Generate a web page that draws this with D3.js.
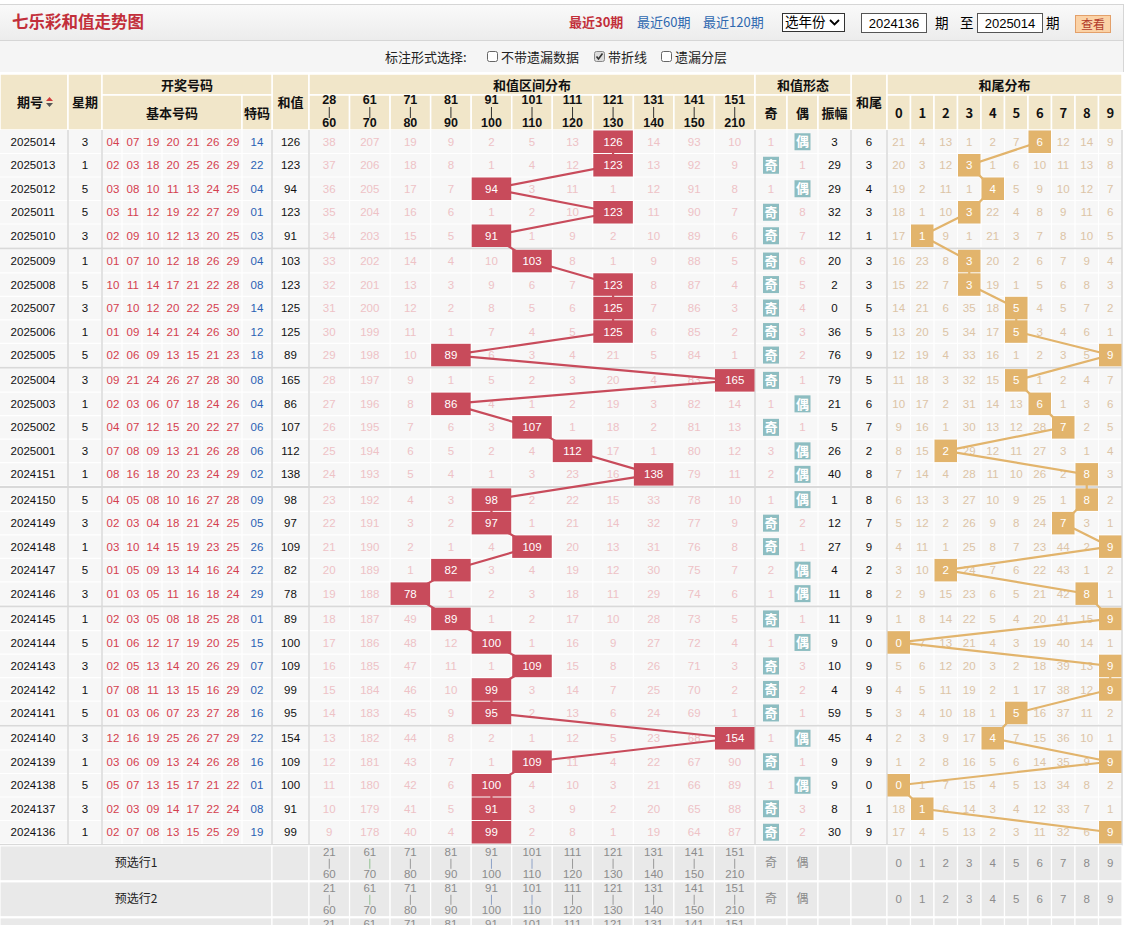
<!DOCTYPE html>
<html><head><meta charset="utf-8">
<script src="https://cdn.jsdelivr.net/npm/d3@7"></script>
<style>
body{margin:0;background:#fff;overflow:hidden;}
svg{display:block;}
text{font-family:"Liberation Sans","DejaVu Sans",sans-serif;}
.cjk{font-family:"Noto Sans CJK SC","Noto Sans",sans-serif;}
</style></head><body>
<svg id="c" width="1127" height="925"></svg>
<script>
// ---------------- DATA ----------------
const issues = ["2025014","2025013","2025012","2025011","2025010","2025009","2025008","2025007","2025006","2025005",
"2025004","2025003","2025002","2025001","2024151","2024150","2024149","2024148","2024147","2024146",
"2024145","2024144","2024143","2024142","2024141","2024140","2024139","2024138","2024137","2024136"];
const weekdays = [3,1,5,5,3,1,5,3,1,5,3,1,5,3,1,5,3,1,5,3,1,5,3,1,5,3,1,5,3,1];
const basicNumbers = [
["04","07","19","20","21","26","29"],["02","03","18","20","25","26","29"],["03","08","10","11","13","24","25"],
["03","11","12","19","22","27","29"],["02","09","10","12","13","20","25"],["01","07","10","12","18","26","29"],
["10","11","14","17","21","22","28"],["07","10","12","20","22","25","29"],["01","09","14","21","24","26","30"],
["02","06","09","13","15","21","23"],["09","21","24","26","27","28","30"],["02","03","06","07","18","24","26"],
["04","07","12","15","20","22","27"],["07","08","09","13","21","26","28"],["08","16","18","20","23","24","29"],
["04","05","08","10","16","27","28"],["02","03","04","18","21","24","25"],["03","10","14","15","19","23","25"],
["01","05","09","13","14","16","24"],["01","03","05","11","16","18","24"],["02","03","05","08","18","25","28"],
["01","06","12","17","19","20","25"],["02","05","13","14","20","26","29"],["07","08","11","13","15","16","29"],
["01","03","06","07","23","27","28"],["12","16","19","25","26","27","29"],["03","06","09","13","24","26","28"],
["05","07","13","15","17","21","22"],["02","03","09","14","17","22","24"],["02","07","08","13","15","25","29"]];
const specialNumbers = ["14","22","04","01","03","04","08","14","12","18","08","04","06","06","02",
"09","05","26","22","29","01","15","07","02","16","22","16","01","08","19"];
const sums = [126,123,94,123,91,103,123,125,125,89,165,86,107,112,138,98,97,109,82,78,89,100,109,99,95,154,109,100,91,99];
// sum-range tick labels (header) and preview labels
const binTop = ["28","61","71","81","91","101","111","121","131","141","151"];
const binBottom = ["60","70","80","90","100","110","120","130","140","150","210"];
const previewTop = ["21","61","71","81","91","101","111","121","131","141","151"];
const binThresholds = [61,71,81,91,101,111,121,131,141,151];
// omission values per sum range (null = hit cell)
const sumOmissions = [
[38,207,19,9,2,5,13,null,14,93,10],[37,206,18,8,1,4,12,null,13,92,9],[36,205,17,7,null,3,11,1,12,91,8],
[35,204,16,6,1,2,10,null,11,90,7],[34,203,15,5,null,1,9,2,10,89,6],[33,202,14,4,10,null,8,1,9,88,5],
[32,201,13,3,9,6,7,null,8,87,4],[31,200,12,2,8,5,6,null,7,86,3],[30,199,11,1,7,4,5,null,6,85,2],
[29,198,10,null,6,3,4,21,5,84,1],[28,197,9,1,5,2,3,20,4,83,null],[27,196,8,null,4,1,2,19,3,82,14],
[26,195,7,6,3,null,1,18,2,81,13],[25,194,6,5,2,4,null,17,1,80,12],[24,193,5,4,1,3,23,16,null,79,11],
[23,192,4,3,null,2,22,15,33,78,10],[22,191,3,2,null,1,21,14,32,77,9],[21,190,2,1,4,null,20,13,31,76,8],
[20,189,1,null,3,4,19,12,30,75,7],[19,188,null,1,2,3,18,11,29,74,6],[18,187,49,null,1,2,17,10,28,73,5],
[17,186,48,12,null,1,16,9,27,72,4],[16,185,47,11,1,null,15,8,26,71,3],[15,184,46,10,null,3,14,7,25,70,2],
[14,183,45,9,null,2,13,6,24,69,1],[13,182,44,8,2,1,12,5,23,68,null],[12,181,43,7,1,null,11,4,22,67,90],
[11,180,42,6,null,4,10,3,21,66,89],[10,179,41,5,null,3,9,2,20,65,88],[9,178,40,4,null,2,8,1,19,64,87]];
// odd / even omission (null = hit)
const oddOmission  = [1,null,1,null,null,null,null,null,null,null,null,1,null,3,2,1,null,null,2,1,null,1,null,null,null,1,null,1,null,null];
const evenOmission = [null,1,null,8,7,6,5,4,3,2,1,null,1,null,null,null,2,1,null,null,1,null,3,2,1,null,1,null,3,2];
const amplitudes = [3,29,29,32,12,20,2,0,36,76,79,21,5,26,40,1,12,27,4,11,11,9,10,4,59,45,9,9,8,30];
const tails = [6,3,4,3,1,3,3,5,5,9,5,6,7,2,8,8,7,9,2,8,9,0,9,9,5,4,9,0,1,9];
const tailDigits = ["0","1","2","3","4","5","6","7","8","9"];
const tailOmissions = [
[21,4,13,1,2,7,null,12,14,9],[20,3,12,null,1,6,10,11,13,8],[19,2,11,1,null,5,9,10,12,7],
[18,1,10,null,22,4,8,9,11,6],[17,null,9,1,21,3,7,8,10,5],[16,23,8,null,20,2,6,7,9,4],
[15,22,7,null,19,1,5,6,8,3],[14,21,6,35,18,null,4,5,7,2],[13,20,5,34,17,null,3,4,6,1],
[12,19,4,33,16,1,2,3,5,null],[11,18,3,32,15,null,1,2,4,7],[10,17,2,31,14,13,null,1,3,6],
[9,16,1,30,13,12,28,null,2,5],[8,15,null,29,12,11,27,3,1,4],[7,14,4,28,11,10,26,2,null,3],
[6,13,3,27,10,9,25,1,null,2],[5,12,2,26,9,8,24,null,3,1],[4,11,1,25,8,7,23,44,2,null],
[3,10,null,24,7,6,22,43,1,2],[2,9,15,23,6,5,21,42,null,1],[1,8,14,22,5,4,20,41,15,null],
[null,7,13,21,4,3,19,40,14,1],[5,6,12,20,3,2,18,39,13,null],[4,5,11,19,2,1,17,38,12,null],
[3,4,10,18,1,null,16,37,11,2],[2,3,9,17,null,7,15,36,10,1],[1,2,8,16,5,6,14,35,9,null],
[null,1,7,15,4,5,13,34,8,2],[18,null,6,14,3,4,12,33,7,1],[17,4,5,13,2,3,11,32,6,null]];
const previewLabels = ["预选行1","预选行2","预选行3"];

// ---------------- LAYOUT ----------------
const svg = d3.select("#c");
const W = 1122;
const C = {
  box:"#c84b5b", orange:"#e2b46c", teal:"#8dbdc1", head:"#f1e6c9", cell:"#f7f7f7",
  miss:"#eec2c6", tailMiss:"#dcc4a6", red:"#d4404e", blue:"#2a62b4", grid:"#d9d9d9"
};
const top0 = 130, rowH = 23.5, groupSep = 1.8;
const yBand = d3.scaleBand().domain(d3.range(30)).range([0, 30*rowH]);
const rowTop = i => top0 + yBand(i) + Math.floor(i/5)*groupSep;
const rowMid = i => rowTop(i) + rowH/2;
const xBins = d3.scaleBand().domain(d3.range(11)).range([309, 755]);
const xTail = d3.scaleBand().domain(d3.range(10)).range([887, 1122]);
const xBasic = d3.scaleBand().domain(d3.range(7)).range([102, 242]);
const binOf = d3.scaleThreshold().domain(binThresholds).range(d3.range(11));
const cols = {issue:[0,68], week:[68,102], special:[242,272], sum:[272,309], odd:[755,787], even:[787,818], amp:[818,851], tail:[851,887]};
const mid = c => (c[0]+c[1])/2;

// ---------------- TOP BARS ----------------
const defs = svg.append("defs");
const g1 = defs.append("linearGradient").attr("id","bar").attr("x1",0).attr("y1",0).attr("x2",0).attr("y2",1);
g1.append("stop").attr("offset","0").attr("stop-color","#fafafa");
g1.append("stop").attr("offset","1").attr("stop-color","#ececec");
svg.append("rect").attr("x",0).attr("y",4).attr("width",1123).attr("height",36).attr("fill","url(#bar)");
svg.append("line").attr("x1",0).attr("x2",1123).attr("y1",4.5).attr("y2",4.5).attr("stroke","#d6d6d6");
svg.append("line").attr("x1",0).attr("x2",1123).attr("y1",40.5).attr("y2",40.5).attr("stroke","#d6d6d6");
svg.append("rect").attr("x",0).attr("y",41).attr("width",1123).attr("height",31).attr("fill","#f5f5f5");
svg.append("line").attr("x1",1123.5).attr("x2",1123.5).attr("y1",4).attr("y2",72).attr("stroke","#d6d6d6");

svg.append("text").attr("class","cjk").attr("x",12).attr("y",28).attr("font-size",16.5).attr("font-weight","bold")
  .attr("fill","#c22f3a").text("七乐彩和值走势图");
const nav = [["最近30期",569,"#c22f3a","bold"],["最近60期",637,"#2e68b0","normal"],["最近120期",703,"#2e68b0","normal"]];
svg.selectAll(".nav").data(nav).join("text").attr("class","cjk").attr("x",d=>d[1]).attr("y",27)
  .attr("font-size",13).attr("fill",d=>d[2]).attr("font-weight",d=>d[3]).text(d=>d[0]);
// select
svg.append("rect").attr("x",782.5).attr("y",13.5).attr("width",62).attr("height",18).attr("fill","#fff").attr("stroke","#333");
svg.append("text").attr("class","cjk").attr("x",785).attr("y",27).attr("font-size",13.5).attr("fill","#000").text("选年份");
svg.append("path").attr("d","M830 20 L834.5 24.5 L839 20").attr("fill","none").attr("stroke","#000").attr("stroke-width",1.8);
// inputs
[[861,"2024136"],[977,"2025014"]].forEach(([x,t])=>{
  svg.append("rect").attr("x",x+0.5).attr("y",13.5).attr("width",65).attr("height",19).attr("fill","#fff").attr("stroke","#555");
  svg.append("text").attr("x",x+33).attr("y",28).attr("text-anchor","middle").attr("font-size",13).attr("fill","#000").text(t);
});
[["期",935],["至",960],["期",1046]].forEach(([t,x])=>svg.append("text").attr("class","cjk").attr("x",x).attr("y",28).attr("font-size",13.5).attr("fill","#000").text(t));
svg.append("rect").attr("x",1075.5).attr("y",15.5).attr("width",35).attr("height",17).attr("fill","#fbd2a6").attr("stroke","#e3a06a");
svg.append("text").attr("class","cjk").attr("x",1093).attr("y",28.5).attr("text-anchor","middle").attr("font-size",12).attr("fill","#b23a2a").text("查看");

// second bar
svg.append("text").attr("class","cjk").attr("x",385).attr("y",62).attr("font-size",13).attr("fill","#222").text("标注形式选择:");
const checks = [[487,false,"不带遗漏数据"],[594,true,"带折线"],[661,false,"遗漏分层"]];
checks.forEach(([x,on,t])=>{
  svg.append("rect").attr("x",x+0.5).attr("y",51.5).attr("width",10).attr("height",10).attr("rx",2)
    .attr("fill",on?"#dcdcdc":"#fff").attr("stroke",on?"#888":"#666");
  if(on) svg.append("path").attr("d",`M${x+2.5} ${56.5} L${x+4.5} ${59} L${x+8.5} ${53.5}`).attr("fill","none").attr("stroke","#333").attr("stroke-width",1.6);
  svg.append("text").attr("class","cjk").attr("x",x+14).attr("y",62).attr("font-size",13).attr("fill","#222").text(t);
});

// ---------------- HEADER ----------------
const hTop = 74, hMid = 95, hBot = 130;
const hCells = [];
[["issue","期号"],["week","星期"],["sum","和值"],["tail","和尾"]].forEach(([k,t])=>hCells.push({x0:cols[k][0],x1:cols[k][1],y0:hTop,y1:hBot,t,ty:102}));
hCells.push({x0:102,x1:272,y0:hTop,y1:hMid,t:"开奖号码",ty:85});
hCells.push({x0:102,x1:242,y0:hMid,y1:hBot,t:"基本号码",ty:113});
hCells.push({x0:242,x1:272,y0:hMid,y1:hBot,t:"特码",ty:113});
hCells.push({x0:309,x1:755,y0:hTop,y1:hMid,t:"和值区间分布",ty:85});
xBins.domain().forEach(b=>hCells.push({x0:xBins(b),x1:xBins(b)+xBins.bandwidth(),y0:hMid,y1:hBot,t:"",ty:0}));
hCells.push({x0:755,x1:851,y0:hTop,y1:hMid,t:"和值形态",ty:85});
[["odd","奇"],["even","偶"],["amp","振幅"]].forEach(([k,t])=>hCells.push({x0:cols[k][0],x1:cols[k][1],y0:hMid,y1:hBot,t,ty:113}));
hCells.push({x0:887,x1:1122,y0:hTop,y1:hMid,t:"和尾分布",ty:85});
xTail.domain().forEach(d=>hCells.push({x0:xTail(d),x1:xTail(d)+xTail.bandwidth(),y0:hMid,y1:hBot,t:tailDigits[d],ty:113}));
svg.append("g").selectAll("rect").data(hCells).join("rect")
  .attr("x",d=>d.x0).attr("y",d=>d.y0).attr("width",d=>d.x1-d.x0).attr("height",d=>d.y1-d.y0)
  .attr("fill",C.head).attr("stroke","#fff").attr("stroke-width",1.5);
svg.append("g").selectAll("text").data(hCells.filter(d=>d.t)).join("text").attr("class","cjk")
  .attr("x",d=>d.t==="期号"?(d.x0+d.x1)/2-4:(d.x0+d.x1)/2).attr("y",d=>d.ty).attr("dy","0.35em")
  .attr("text-anchor","middle").attr("font-size",13).attr("font-weight","bold").attr("fill","#111").text(d=>d.t);
// sort arrows
svg.append("path").attr("d","M46 101 L49.5 97 L53 101 Z").attr("fill","#d23a3a");
svg.append("path").attr("d","M46 103 L49.5 107 L53 103 Z").attr("fill","#555");
// bin header ticks
const bh = svg.append("g").selectAll("g").data(xBins.domain()).join("g")
  .attr("transform",d=>`translate(${xBins(d)+xBins.bandwidth()/2},0)`);
bh.append("text").attr("y",104).attr("text-anchor","middle").attr("font-size",12.5).attr("font-weight","bold").attr("fill","#111").text(d=>binTop[d]);
bh.append("line").attr("y1",107).attr("y2",118).attr("stroke","#333").attr("stroke-width",1);
bh.append("text").attr("y",127).attr("text-anchor","middle").attr("font-size",12.5).attr("font-weight","bold").attr("fill","#111").text(d=>binBottom[d]);

// ---------------- DATA AREA ----------------
const dataBottom = rowTop(29)+rowH+groupSep;
svg.append("rect").attr("x",0).attr("y",top0).attr("width",W).attr("height",dataBottom-top0).attr("fill",C.cell);
const grid = svg.append("g");
const vlines = [68,102,242,272,309,755,787,818,851,887];
xBasic.domain().forEach(i=>vlines.push(xBasic(i)));
xBins.domain().forEach(i=>vlines.push(xBins(i)));
xTail.domain().forEach(i=>vlines.push(xTail(i)));
vlines.push(1122);
grid.selectAll(".v").data(vlines).join("line").attr("x1",d=>d).attr("x2",d=>d).attr("y1",top0).attr("y2",dataBottom)
  .attr("stroke","#fff").attr("stroke-width",1.2);
grid.selectAll(".h").data(d3.range(30)).join("line").attr("x1",0).attr("x2",W)
  .attr("y1",d=>rowTop(d)+rowH).attr("y2",d=>rowTop(d)+rowH).attr("stroke","#fff").attr("stroke-width",1.2);
grid.selectAll(".gs").data([4,9,14,19,24,29]).join("line").attr("x1",0).attr("x2",W)
  .attr("y1",d=>rowTop(d)+rowH+groupSep/2).attr("y2",d=>rowTop(d)+rowH+groupSep/2).attr("stroke",C.grid).attr("stroke-width",groupSep);
grid.selectAll(".mv").data([68,102,272,309,755,851,887,1122]).join("line").attr("x1",d=>d).attr("x2",d=>d)
  .attr("y1",top0).attr("y2",dataBottom).attr("stroke",C.grid).attr("stroke-width",1.5);

const rows = svg.append("g").selectAll("g").data(d3.range(30)).join("g").attr("transform",i=>`translate(0,${rowMid(i)})`);
const T = (sel)=>sel.attr("dy","0.36em").attr("text-anchor","middle").attr("font-size",11.5);
T(rows.append("text")).attr("x",mid(cols.issue)-1).attr("fill","#111").text(i=>issues[i]);
T(rows.append("text")).attr("x",mid(cols.week)).attr("fill","#111").text(i=>weekdays[i]);
rows.each(function(i){
  const g = d3.select(this);
  T(g.selectAll(".bn").data(basicNumbers[i]).join("text")).attr("x",(d,k)=>xBasic(k)+xBasic.bandwidth()/2+1)
    .attr("fill",C.red).text(d=>d);
  T(g.append("text")).attr("x",mid(cols.special)).attr("fill",C.blue).text(specialNumbers[i]);
  T(g.append("text")).attr("x",mid(cols.sum)).attr("fill","#111").text(sums[i]);
  T(g.selectAll(".om").data(sumOmissions[i].map((v,k)=>({v,k})).filter(d=>d.v!==null)).join("text"))
    .attr("x",d=>xBins(d.k)+xBins.bandwidth()/2).attr("fill",C.miss).text(d=>d.v);
  [["odd",oddOmission[i],"奇"],["even",evenOmission[i],"偶"]].forEach(([k,v,lab])=>{
    const cx = mid(cols[k]);
    if(v===null){
      g.append("rect").attr("x",cx-8).attr("y",-8.5).attr("width",16).attr("height",17).attr("fill",C.teal);
      g.append("text").attr("class","cjk").attr("x",cx).attr("dy","0.36em").attr("text-anchor","middle")
        .attr("font-size",13).attr("font-weight","bold").attr("fill","#fff").text(lab);
    } else {
      T(g.append("text")).attr("x",cx).attr("fill",C.miss).text(v);
    }
  });
  T(g.append("text")).attr("x",mid(cols.amp)).attr("fill","#111").text(amplitudes[i]);
  T(g.append("text")).attr("x",mid(cols.tail)).attr("fill","#111").text(tails[i]);
  T(g.selectAll(".tm").data(tailOmissions[i].map((v,k)=>({v,k})).filter(d=>d.v!==null)).join("text"))
    .attr("x",d=>xTail(d.k)+xTail.bandwidth()/2).attr("fill",C.tailMiss).text(d=>d.v);
});

// ---------------- TREND LINES & HIT BOXES ----------------
const line = d3.line().x(d=>d[0]).y(d=>d[1]);
const sumPts = sums.map((s,i)=>[xBins(binOf(s))+xBins.bandwidth()/2, rowMid(i)]);
svg.append("path").attr("d",line(sumPts)).attr("fill","none").attr("stroke",C.box).attr("stroke-width",2.2);
const tailPts = tails.map((t,i)=>[xTail(t)+xTail.bandwidth()/2, rowMid(i)]);
svg.append("path").attr("d",line(tailPts)).attr("fill","none").attr("stroke",C.orange).attr("stroke-width",2.2);

const hb = svg.append("g").selectAll("g").data(sums.map((s,i)=>({s,i}))).join("g");
hb.append("rect").attr("x",d=>xBins(binOf(d.s))+0.5).attr("y",d=>rowTop(d.i)+0.5)
  .attr("width",xBins.bandwidth()-1).attr("height",rowH-1).attr("fill",C.box);
T(hb.append("text")).attr("x",d=>xBins(binOf(d.s))+xBins.bandwidth()/2).attr("y",d=>rowMid(d.i)).attr("fill","#fff").text(d=>d.s);

const tb = svg.append("g").selectAll("g").data(tails.map((t,i)=>({t,i}))).join("g");
tb.append("rect").attr("x",d=>xTail(d.t)+0.5).attr("y",d=>rowTop(d.i)+0.5)
  .attr("width",xTail.bandwidth()-1).attr("height",rowH-1).attr("fill",C.orange);
T(tb.append("text")).attr("x",d=>xTail(d.t)+xTail.bandwidth()/2).attr("y",d=>rowMid(d.i)).attr("fill","#fff").text(d=>d.t);

// ---------------- PREVIEW ROWS ----------------
const pH = 35;
const pv = svg.append("g").selectAll("g").data(previewLabels).join("g")
  .attr("transform",(d,k)=>`translate(0,${dataBottom+k*(pH+1)})`);
const pCells = [[0,272],[272,309],[755,787],[787,818],[818,851],[851,887]];
xBins.domain().forEach(b=>pCells.push([xBins(b),xBins(b)+xBins.bandwidth()]));
xTail.domain().forEach(b=>pCells.push([xTail(b),xTail(b)+xTail.bandwidth()]));
pv.each(function(lab){
  const g = d3.select(this);
  g.selectAll("rect").data(pCells).join("rect").attr("x",d=>d[0]).attr("y",0).attr("width",d=>d[1]-d[0]).attr("height",pH)
    .attr("fill","#e9e9e9").attr("stroke","#fff").attr("stroke-width",1.2);
  g.append("text").attr("class","cjk").attr("x",136).attr("y",pH/2).attr("dy","0.35em").attr("text-anchor","middle")
    .attr("font-size",12).attr("fill","#222").text(lab);
  const b = g.selectAll(".pb").data(xBins.domain()).join("g").attr("transform",d=>`translate(${xBins(d)+xBins.bandwidth()/2},0)`);
  b.append("text").attr("y",10).attr("text-anchor","middle").attr("font-size",11.5).attr("fill","#8c8c8c").text(d=>previewTop[d]);
  b.append("line").attr("y1",13).attr("y2",23).attr("stroke",d=>d===1?"#8fc08f":(d===4||d===5?"#8ea2c8":"#999")).attr("stroke-width",1);
  b.append("text").attr("y",32).attr("text-anchor","middle").attr("font-size",11.5).attr("fill","#8c8c8c").text(d=>binBottom[d]);
  [["奇",mid(cols.odd)],["偶",mid(cols.even)]].forEach(([t,x])=>g.append("text").attr("class","cjk").attr("x",x).attr("y",pH/2)
    .attr("dy","0.35em").attr("text-anchor","middle").attr("font-size",12).attr("fill","#8c8c8c").text(t));
  g.selectAll(".pt").data(xTail.domain()).join("text").attr("x",d=>xTail(d)+xTail.bandwidth()/2).attr("y",pH/2)
    .attr("dy","0.35em").attr("text-anchor","middle").attr("font-size",11.5).attr("fill","#8c8c8c").text(d=>tailDigits[d]);
});
</script>
</body></html>
